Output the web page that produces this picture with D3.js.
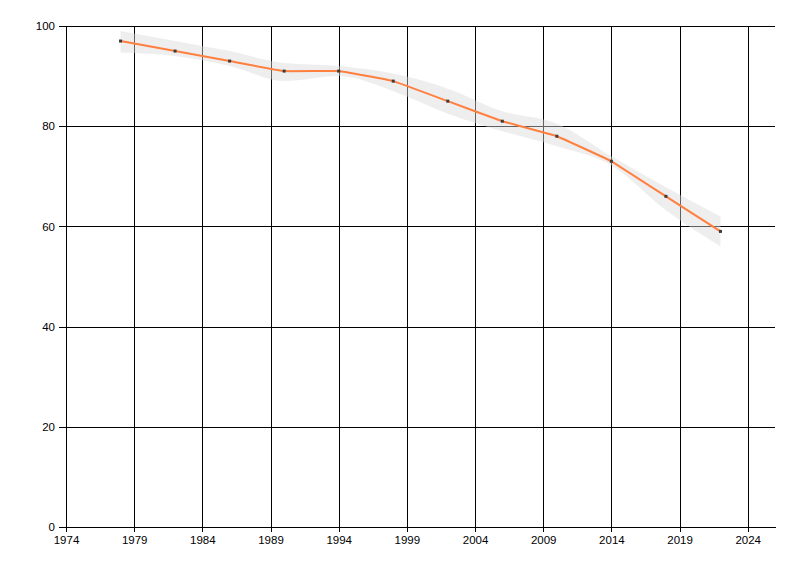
<!DOCTYPE html>
<html>
<head>
<meta charset="utf-8">
<script src="https://cdn.jsdelivr.net/npm/d3@7"></script>
<style>
    body { margin: 0; background: #fff; }
    svg { display: block; }
    .tick text { font-family: "Liberation Sans", Arial, sans-serif; font-size: 11.5px; fill: #000; }
    .tick line, .domain { shape-rendering: crispEdges; }
</style>
</head>
<body>
<div id="chart"></div>
<script>
const years = [1978, 1982, 1986, 1990, 1994, 1998, 2002, 2006, 2010, 2014, 2018, 2022];
const values = [97, 95, 93, 91, 91, 89, 85, 81, 78, 73, 66, 59];
const upper = [99, 97, 95, 92.6, 92, 90.5, 87.5, 83, 80.5, 74, 67.8, 62];
const lower = [94.7, 94, 92, 89, 90, 87, 82.5, 79, 76, 72.2, 63.2, 56];
const xTicks = [1974, 1979, 1984, 1989, 1994, 1999, 2004, 2009, 2014, 2019, 2024];
const yTicks = [0, 20, 40, 60, 80, 100];

const width = 800;
const height = 576;
const margin = { left: 66, right: 25, top: 26, bottom: 49 };

const svg = d3.select("#chart")
    .append("svg")
    .attr("width", width)
    .attr("height", height);

const x = d3.scaleLinear()
    .domain([1974, 2026])
    .range([margin.left, width - margin.right]);

const y = d3.scaleLinear()
    .domain([0, 100])
    .range([height - margin.bottom, margin.top]);

const plotW = width - margin.right - margin.left;
const plotH = height - margin.bottom - margin.top;

// grid + axes
const xAxis = svg.append("g")
    .attr("transform", `translate(0,${height - margin.bottom})`)
    .call(d3.axisBottom(x).tickValues(xTicks).tickFormat(d3.format("d")).tickSizeInner(-plotH).tickSizeOuter(0).tickPadding(9));

xAxis.selectAll(".tick line").attr("stroke", "#000");
xAxis.select(".domain").attr("stroke", "#000");
// little tick marks below the axis
xAxis.selectAll(".tick").append("line")
    .attr("y1", 0).attr("y2", 5).attr("stroke", "#000");

const yAxis = svg.append("g")
    .attr("transform", `translate(${margin.left},0)`)
    .call(d3.axisLeft(y).tickValues(yTicks).tickSizeInner(-plotW).tickSizeOuter(0).tickPadding(11));

yAxis.selectAll(".tick line").attr("stroke", "#000");
yAxis.select(".domain").attr("stroke", "#000");
yAxis.selectAll(".tick").append("line")
    .attr("x1", 0).attr("x2", -7).attr("stroke", "#000");

// confidence band
const band = d3.area()
    .x((d, i) => x(years[i]))
    .y0((d, i) => y(lower[i]))
    .y1((d, i) => y(upper[i]))
    .curve(d3.curveMonotoneX);

svg.append("path")
    .datum(years)
    .attr("d", band)
    .attr("fill", "#d9d9d9")
    .attr("fill-opacity", 0.45);

const line = d3.line()
    .x((d, i) => x(years[i]))
    .y((d, i) => y(values[i]))
    .curve(d3.curveCardinal.tension(0.8));

svg.append("path")
    .datum(values)
    .attr("d", line)
    .attr("fill", "none")
    .attr("stroke", "#ff7f3f")
    .attr("stroke-width", 2);

svg.selectAll("rect.pt")
    .data(values)
    .enter()
    .append("rect")
    .attr("class", "pt")
    .attr("x", (d, i) => x(years[i]) - 1.5)
    .attr("y", d => y(d) - 1.5)
    .attr("width", 3)
    .attr("height", 3)
    .attr("fill", "#3c3c3c");
</script>
</body>
</html>
